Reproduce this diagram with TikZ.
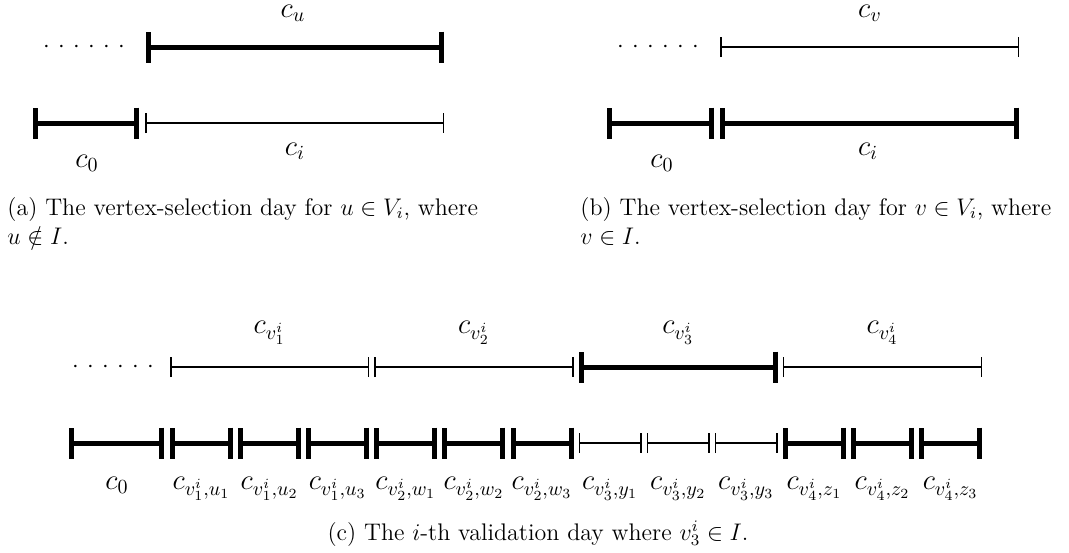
\documentclass[tikz,border=0pt,12pt]{standalone}
\usepackage{amsmath,amssymb}
\usepackage{tikz}
\usetikzlibrary{arrows.meta,calc}
\newcommand{\gapdots}{\makebox[41pt]{$\cdot$\hfill$\cdot$\hfill$\cdot$\hfill$\cdot$\hfill$\cdot$\hfill$\cdot$}}
\tikzset{heavy/.style={line width=2.5pt,{Bar[width=15.5pt]}-{Bar[width=15.5pt]}},light/.style={line width=.75pt,{Bar[width=10pt]}-{Bar[width=10pt]}},seglabel/.style={anchor=base,inner sep=0pt,font=\large},capt/.style={anchor=base west,align=left,inner sep=0pt}}
\begin{document}
\begin{tikzpicture}[x=.5pt,y=-.5pt]
 \useasboundingbox (0,0) rectangle (1069,552);

 % (a) vertex-selection day, u not in I
 \node[anchor=base,inner sep=0pt] (adots) at (84,52) {\gapdots};
 \coordinate (aus) at (146,47); \coordinate (aue) at (444,47);
 \coordinate (a0s) at (33,123); \coordinate (a0e) at (139,123);
 \coordinate (ais) at (145,123); \coordinate (aie) at (444,123);
 \draw[heavy] (aus)--(aue);
 \draw[heavy] (a0s)--(a0e);
 \draw[light] (ais)--(aie);
 \node[seglabel] (acu) at (293,17) {$c_u$};
 \node[seglabel] (ac0) at (87,167) {$c_0$};
 \node[seglabel] (aci) at (295,155) {$c_i$};
 \node[capt] (capa) at (7,244) {(a) The vertex-selection day for $u \in V_i$, where\\$u \notin I$.};

 % (b) vertex-selection day, v in I
 \node[anchor=base,inner sep=0pt] (bdots) at (658,52) {\gapdots};
 \coordinate (bvs) at (720,47); \coordinate (bve) at (1019,47);
 \coordinate (b0s) at (607,123); \coordinate (b0e) at (714,123);
 \coordinate (bis) at (720,123); \coordinate (bie) at (1019,123);
 \draw[light] (bvs)--(bve);
 \draw[heavy] (b0s)--(b0e);
 \draw[heavy] (bis)--(bie);
 \node[seglabel] (bcv) at (870,17) {$c_v$};
 \node[seglabel] (bc0) at (662,167) {$c_0$};
 \node[seglabel] (bci) at (868,155) {$c_i$};
 \node[capt] (capb) at (580,244) {(b) The vertex-selection day for $v \in V_i$, where\\$v \in I$.};

 % (c) i-th validation day
 \node[anchor=base,inner sep=0pt] (cdots) at (113,372) {\gapdots};
 \coordinate (c0s) at (69,443); \coordinate (c0e) at (164,443);
 \draw[heavy] (c0s)--(c0e);
 \node[seglabel] (cc0) at (117,489) {$c_0$};
 \foreach \k in {0,...,11} {
  \coordinate (s\k) at ({170+68.1*\k},443);
  \coordinate (e\k) at ({233+68.1*\k},443);
 }
 \foreach \k in {0,...,5,9,10,11} {\draw[heavy] (s\k)--(e\k);}
 \foreach \k in {6,7,8} {\draw[light] (s\k)--(e\k);}
 \foreach \k/\v/\w in {0/1/u_1,1/1/u_2,2/1/u_3,3/2/w_1,4/2/w_2,5/2/w_3,6/3/y_1,7/3/y_2,8/3/y_3,9/4/z_1,10/4/z_2,11/4/z_3} {
  \node[seglabel] (l\k) at ($(s\k)!.5!(e\k)+(0,46)$) {$c_{v^i_{\v},\w}$};
 }
 \foreach \v/\a/\b in {1/0/2,2/3/5,3/6/8,4/9/11} {
  \coordinate (ts\v) at ($(s\a)+(0,-76)$);
  \coordinate (te\v) at ($(e\b)+(0,-76)$);
  \node[seglabel] (tl\v) at ($(ts\v)!.5!(te\v)+(0,-34)$) {$c_{v^i_{\v}}$};
 }
 \draw[light] (ts1)--(te1);
 \draw[light] (ts2)--(te2);
 \draw[heavy] (ts3)--(te3);
 \draw[light] (ts4)--(te4);
 \node[capt,anchor=base] (capc) at (538,540) {(c) The $i$-th validation day where $v^i_3 \in I$.};
\end{tikzpicture}
\end{document}
